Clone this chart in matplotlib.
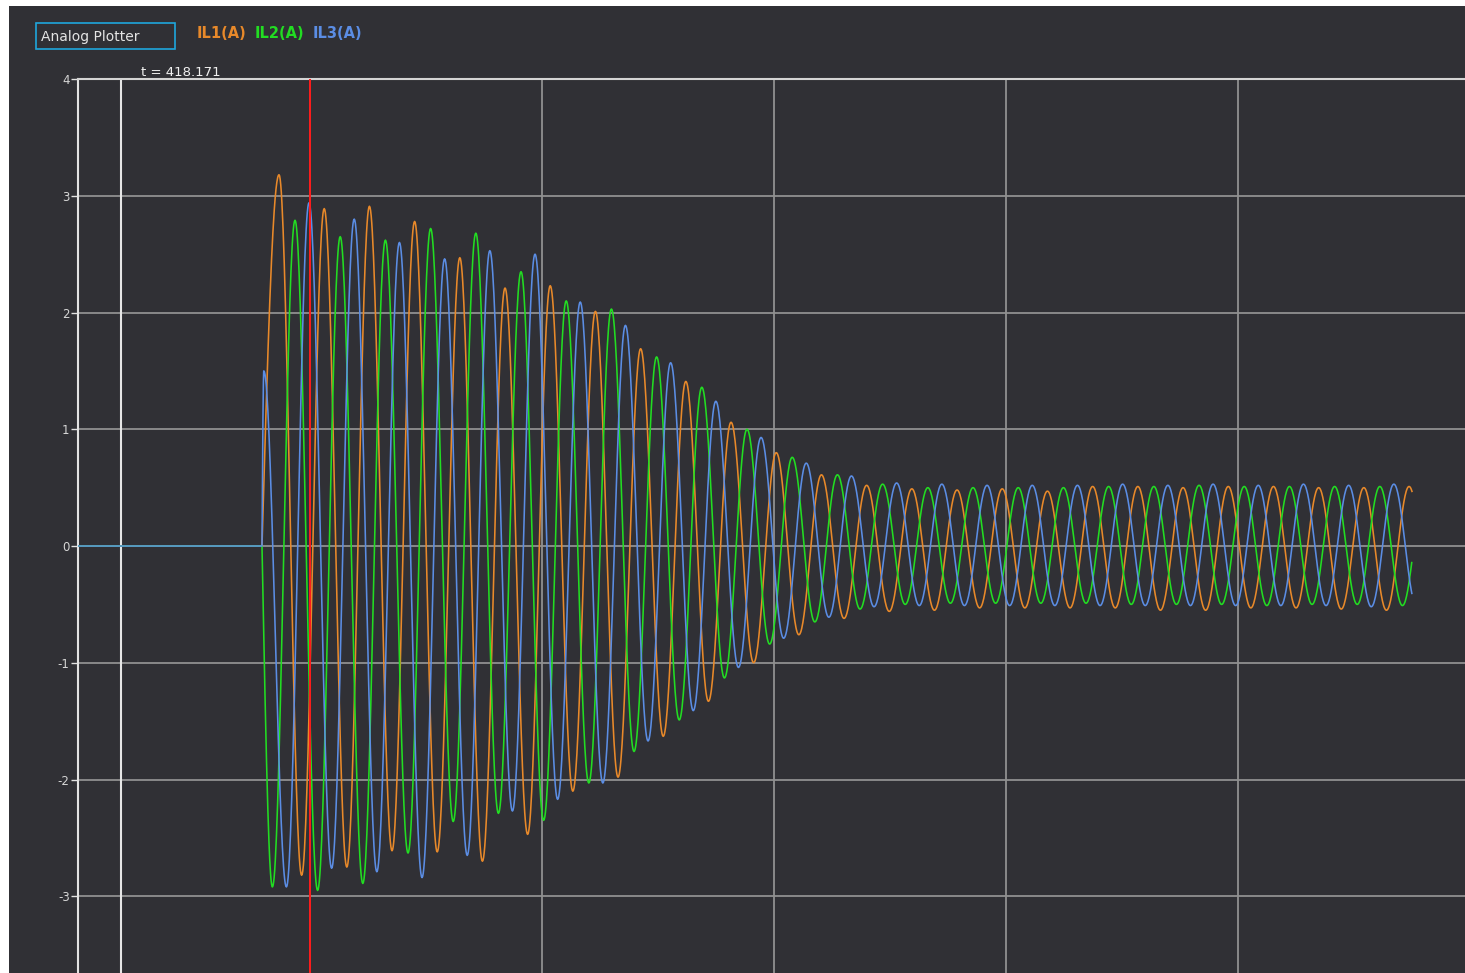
import numpy as np
import matplotlib
matplotlib.use("Agg")
import matplotlib.pyplot as plt
from matplotlib.patches import Rectangle

plt.rcParams["axes.unicode_minus"] = False
plt.rcParams["font.family"] = ["DejaVu Sans"]

# ---- data -------------------------------------------------------------
# Time axis in ms; recording ends at END_MS, fault starts at ONSET_MS.
ONSET_MS = 79.3
END_MS = 575.0
HALF_PERIOD_MS = 9.741

# time of the first extremum of each phase after fault inception (ms)
first_extremum_ms = {"IL1": 86.64, "IL2": 83.79, "IL3": 80.09}

# successive half-cycle extrema (A) of each phase current
il1_extrema = [3.18, -2.82, 2.89, -2.75, 2.91, -2.61, 2.78, -2.62, 2.47, -2.70,
               2.21, -2.47, 2.23, -2.10, 2.01, -1.98, 1.69, -1.63, 1.41, -1.33,
               1.06, -1.00, 0.80, -0.76, 0.61, -0.62, 0.52, -0.56, 0.49, -0.55,
               0.48, -0.53, 0.49, -0.53, 0.47, -0.53, 0.51, -0.53, 0.51, -0.55,
               0.50, -0.55, 0.51, -0.53, 0.51, -0.53, 0.50, -0.54, 0.50, -0.55,
               0.51, -0.54]
il2_extrema = [-2.92, 2.79, -2.95, 2.65, -2.89, 2.62, -2.63, 2.72, -2.36, 2.68,
               -2.29, 2.35, -2.35, 2.10, -2.03, 2.03, -1.76, 1.62, -1.49, 1.36,
               -1.13, 1.00, -0.84, 0.76, -0.65, 0.61, -0.54, 0.53, -0.50, 0.50,
               -0.49, 0.50, -0.49, 0.50, -0.49, 0.50, -0.49, 0.51, -0.50, 0.51,
               -0.50, 0.52, -0.50, 0.51, -0.51, 0.51, -0.50, 0.51, -0.50, 0.51,
               -0.51, 0.51]
il3_extrema = [1.50, -2.92, 2.94, -2.76, 2.80, -2.79, 2.60, -2.84, 2.46, -2.65,
               2.53, -2.27, 2.50, -2.17, 2.09, -2.03, 1.89, -1.67, 1.57, -1.41,
               1.24, -1.04, 0.93, -0.79, 0.71, -0.61, 0.60, -0.52, 0.54, -0.51,
               0.53, -0.51, 0.52, -0.51, 0.52, -0.51, 0.52, -0.51, 0.53, -0.51,
               0.52, -0.51, 0.53, -0.51, 0.52, -0.51, 0.53, -0.51, 0.52, -0.52,
               0.53, -0.51]

series = [("IL1", "IL1(A)", il1_extrema, "#e8892a"),
          ("IL2", "IL2(A)", il2_extrema, "#22dd22"),
          ("IL3", "IL3(A)", il3_extrema, "#5b8de4")]

y_ticks = [-3, -2, -1, 0, 1, 2, 3, 4]
x_grid_ms = [0, 100, 200, 300, 400, 500]
cursor_main_ms = 100.0
cursor_ref_ms = 18.53
cursor_label = "t = 418.171"


def waveform(t0, extrema, n_per_half=40):
    """Sinusoidal half-cycles joining successive extrema, flat before onset."""
    t_parts = [np.array([0.0, ONSET_MS])]
    v_parts = [np.array([0.0, 0.0])]
    s = np.linspace(0, 1, n_per_half)[1:]
    # onset -> first extremum (quarter wave)
    t_parts.append(ONSET_MS + (t0 - ONSET_MS) * s)
    v_parts.append(extrema[0] * np.sin(np.pi / 2 * s))
    for k in range(len(extrema) - 1):
        ta = t0 + k * HALF_PERIOD_MS
        va, vb = extrema[k], extrema[k + 1]
        t_parts.append(ta + HALF_PERIOD_MS * s)
        v_parts.append(va + (vb - va) * (1 - np.cos(np.pi * s)) / 2)
    t = np.concatenate(t_parts)
    v = np.concatenate(v_parts)
    keep = t <= END_MS
    return t[keep], v[keep]


# ---- figure -----------------------------------------------------------
W, H = 1465, 973
BG = "#303035"
fig = plt.figure(figsize=(W / 100, H / 100), dpi=100, facecolor="white")
fig.patches.append(Rectangle((9 / W, 0), 1 - 9 / W, 1 - 6 / H,
                             transform=fig.transFigure, facecolor=BG,
                             edgecolor="none", zorder=-10))

ax = fig.add_axes([78 / W, 0, 1 - 78 / W, (H - 79) / H])
ax.set_facecolor(BG)
ax.set_xlim(0, 597.8)
ax.set_ylim(-3.657, 4.0)

for side in ("right", "bottom"):
    ax.spines[side].set_visible(False)
ax.spines["left"].set_color("#e2e2e2")
ax.spines["left"].set_linewidth(1.5)
ax.spines["top"].set_color("#d4d4d4")
ax.spines["top"].set_linewidth(1.5)

ax.set_xticks(x_grid_ms)
ax.tick_params(axis="x", length=0, labelbottom=False)
ax.set_yticks(y_ticks)
ax.set_yticklabels([str(v) for v in y_ticks])
ax.tick_params(axis="y", length=5, width=1, color="#e2e2e2",
               labelcolor="#d6d6d6", labelsize=8.5, pad=1)
ax.grid(True, color="#909090", linewidth=1.3)
ax.set_axisbelow(True)

for key, label, ext, color in series:
    t, v = waveform(first_extremum_ms[key], ext)
    ax.plot(t, v, color=color, linewidth=1.15, zorder=3)

ax.axvline(cursor_ref_ms, color="#e6e6e6", linewidth=1.5, zorder=2)
ax.axvline(cursor_main_ms, color="#ff1a1a", linewidth=1.4, zorder=4)

# ---- header -----------------------------------------------------------
fig.patches.append(Rectangle((36 / W, 1 - 49 / H), 139 / W, 26 / H,
                             transform=fig.transFigure, facecolor="none",
                             edgecolor="#1ea6dc", linewidth=1.2))
fig.text(41 / W, 1 - 37 / H, "Analog Plotter", color="#e4e4e4",
         fontsize=10, va="center", ha="left")

legend_x = [197, 255, 313]
for (key, label, ext, color), lx in zip(series, legend_x):
    fig.text(lx / W, 1 - 33 / H, label, color=color, fontsize=10.5,
             fontweight="bold", va="center", ha="left")

fig.text(141 / W, 1 - 72 / H, cursor_label, color="#f0f0f0",
         fontsize=9.5, va="center", ha="left")

fig.savefig("out.png", dpi=100, facecolor=fig.get_facecolor())
